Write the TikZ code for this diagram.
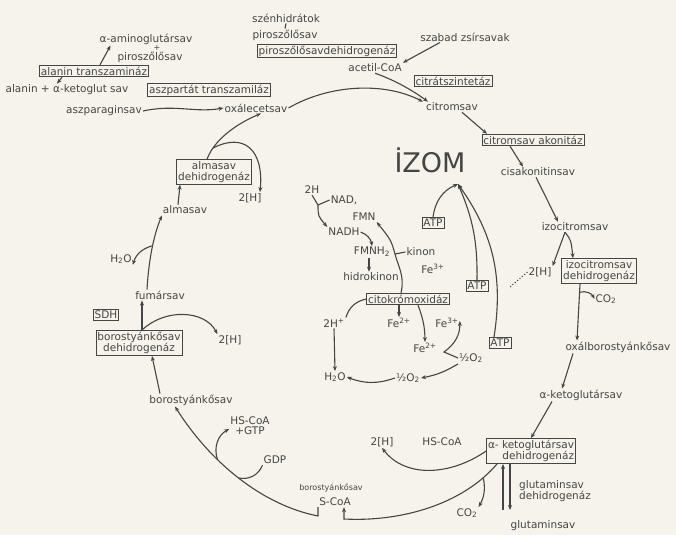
\documentclass[tikz,border=0pt]{standalone}
\usepackage{fontspec}
\setmainfont{DejaVu Sans}
\usetikzlibrary{arrows.meta}
\definecolor{ink}{HTML}{454543}
\definecolor{paper}{HTML}{F5F3EB}
\begin{document}
\begin{tikzpicture}[x=1pt, y=-1pt,
    font=\fontsize{10.5}{11.5}\selectfont,
    lbl/.style={text=ink, inner sep=1pt},
    enz/.style={draw=ink, text=ink, line width=0.8pt, inner sep=1.5pt, align=center},
    ln/.style={draw=ink, line width=1.1pt},
    arr/.style={ln, -{Stealth[length=5pt, width=4pt]}},
    tiny/.style={font=\fontsize{8}{9}\selectfont}]
    \fill[paper] (0,0) rectangle (676,535);
    \useasboundingbox (0,0) rectangle (676,535);

    % upper left: transaminations
    \node[lbl] (amglu) at (146,39) {α-aminoglutársav};
    \node[lbl, tiny] (plus) at (157,48) {+};
    \node[lbl] (piro1) at (150,57) {piroszőlősav};
    \node[enz] (alatr) at (94,71) {alanin transzamináz};
    \node[lbl] (alakg) at (67,90) {alanin + α-ketoglut sav};
    \node[enz] (asptr) at (209,90) {aszpartát transzamiláz};
    \node[lbl] (aszpar) at (104,111) {aszparaginsav};
    \node[lbl] (oxal) at (256,108) {oxálecetsav};

    % top
    \node[lbl] (szenh) at (286,18) {szénhidrátok};
    \node[lbl] (piro2) at (285,35) {piroszőlősav};
    \node[enz] (pdh) at (327,51) {piroszőlősavdehidrogenáz};
    \node[lbl] (acetil) at (375,68) {acetil-CoA};
    \node[lbl] (szabad) at (465,37) {szabad zsírsavak};
    \node[enz] (citsz) at (453,81) {citrátszintetáz};
    \node[lbl] (citr) at (452,107) {citromsav};

    % right side
    \node[enz] (akon) at (533,140) {citromsav akonitáz};
    \node[lbl] (cisak) at (538,172) {cisakonitinsav};
    \node[lbl] (izoc) at (575,227) {izocitromsav};
    \node[lbl] (ih2) at (540,272) {2[H]};
    \node[enz] (idh) at (599,271) {izocitromsav\\dehidrogenáz};
    \node[lbl] (co2a) at (606,299) {CO\textsubscript{2}};
    \node[lbl] (oxbor) at (618,347) {oxálborostyánkősav};
    \node[lbl] (akg) at (581,395) {α-ketoglutársav};
    \node[enz, align=right] (kgdh) at (531,451) {α- ketoglutársav\\dehidrogenáz};
    \node[lbl, align=left] (glud) at (555,491) {glutaminsav\\dehidrogenáz};
    \node[lbl] (glut) at (543,526) {glutaminsav};

    % bottom
    \node[lbl] (co2b) at (467,513) {CO\textsubscript{2}};
    \node[lbl] (kh2) at (382,442) {2[H]};
    \node[lbl] (khscoa) at (442,442) {HS-CoA};
    \node[lbl, tiny] (sucoa1) at (331,488) {borostyánkősav};
    \node[lbl] (sucoa) at (335,502) {S-CoA};
    \node[lbl] (gdp) at (275,460) {GDP};
    \node[lbl, align=center, font=\fontsize{10.5}{10}\selectfont] (hsgtp) at (250,426) {HS-CoA\\+GTP};
    \node[lbl] (borost) at (191,400) {borostyánkősav};

    % left side
    \node[enz] (sdhbox) at (139,343) {borostyánkősav\\dehidrogenáz};
    \node[enz] (sdh) at (106,315) {SDH};
    \node[lbl] (sh2) at (230,340) {2[H]};
    \node[lbl] (fumar) at (160,295) {fumársav};
    \node[lbl] (h2o) at (121,259) {H\textsubscript{2}O};
    \node[lbl] (almas) at (185,210) {almasav};
    \node[enz] (mdh) at (214,172) {almasav\\dehidrogenáz};
    \node[lbl] (mh2) at (250,198) {2[H]};

    % centre: respiratory chain
    \node[lbl, font=\fontsize{27}{30}\selectfont] (izom) at (430,160) {İZOM};
    \node[lbl] (n2h) at (312,190) {2H};
    \node[lbl] (nad) at (344,200) {NAD,};
    \node[lbl] (fmn) at (364,217) {FMN};
    \node[lbl] (nadh) at (344,232) {NADH};
    \node[lbl] (fmnh) at (372,252) {FMNH\textsubscript{2}};
    \node[lbl] (kinon) at (421,252) {kinon};
    \node[lbl] (fe3a) at (433,269) {Fe\textsuperscript{3+}};
    \node[lbl] (hidrok) at (371,277) {hidrokinon};
    \node[enz] (cyto) at (408,299) {citokrómoxidáz};
    \node[lbl] (h2p) at (334,323) {2H\textsuperscript{+}};
    \node[lbl] (fe2a) at (399,323) {Fe\textsuperscript{2+}};
    \node[lbl] (fe3b) at (447,323) {Fe\textsuperscript{3+}};
    \node[lbl] (fe2b) at (425,348) {Fe\textsuperscript{2+}};
    \node[lbl] (o2a) at (471,358) {½O\textsubscript{2}};
    \node[lbl] (o2b) at (408,378) {½O\textsubscript{2}};
    \node[lbl] (h2ob) at (335,377) {H\textsubscript{2}O};
    \node[enz] (atp1) at (433,223) {ATP};
    \node[enz] (atp2) at (477,286) {ATP};
    \node[enz] (atp3) at (500,343) {ATP};

    \coordinate (izomin) at (458,184);
    \coordinate (dotend) at (510,287);
    \coordinate (gld1) at (503,510);
    \coordinate (gld2) at (510,510);
    \coordinate (sck) at (344,519);
    \coordinate (sca) at (318,516);
    \coordinate (yj) at (318,205);
    \coordinate (kj) at (395,254);
    \coordinate (sv) at (444,352);

    % connectors, upper left
    \draw[arr] ([xshift=6pt]alatr.north) -- ([xshift=12pt]amglu.south west);
    \draw[arr] ([xshift=-32pt]alatr.south) -- ([xshift=-10pt]alakg.north);
    \draw[arr] (aszpar.east) .. controls (175,104) and (195,113) .. (oxal.west);
    \draw[arr] (oxal.east) .. controls (330,84) and (385,82) .. ([xshift=-2pt]citr.north west);

    % top
    \draw[ln] (szenh.south) -- (piro2.north);
    \draw[arr] ([xshift=-25pt]szabad.south) -- (acetil.north east);
    \draw[arr] (acetil.south) .. controls (395,80) and (415,92) .. ([xshift=3pt]citr.north west);

    % right side
    \draw[arr] ([xshift=10pt]citr.south) -- ([xshift=-46pt]akon.north);
    \draw[arr] ([xshift=-23pt]akon.south) -- ([xshift=-15pt]cisak.north);
    \draw[arr] ([xshift=-2pt]cisak.south) -- ([xshift=-17pt]izoc.north);
    \draw[arr] ([xshift=-10pt]izoc.south) .. controls (571,240) .. ([xshift=-26pt]idh.north);
    \draw[arr] ([xshift=-10pt]izoc.south) -- (ih2.north east);
    \draw[ln, dotted] (ih2.west) -- (dotend);
    \draw[arr] ([xshift=-19pt]idh.south) -- coordinate[pos=0.15] (idhc) ([xshift=-41pt]oxbor.north);
    \draw[arr] (idhc) to[bend left=40] (co2a.west);
    \draw[arr] ([xshift=-45pt]oxbor.south) -- ([xshift=-19pt]akg.north);
    \draw[arr] ([xshift=-29pt]akg.south) -- (kgdh.north);
    \draw[arr] (gld1) -- (gld1 |- kgdh.south);
    \draw[arr] (gld2 |- kgdh.south) -- (gld2);

    % bottom
    \draw[arr] ([xshift=-34pt]kgdh.south) .. controls (462,505) and (400,522) .. coordinate[pos=0.12] (kgc) (sck) -- (sck |- sucoa.south);
    \draw[arr] (kgc) to[bend left=20] (co2b.north east);
    \draw[arr] (kgdh.west) .. controls (450,476) and (405,478) .. (kh2.south);
    \draw[arr] ([xshift=-17pt]sucoa.south) -- (sca) .. controls (262,505) and (210,462) .. coordinate[pos=0.5] (gdpj) coordinate[pos=0.65] (gtpj) ([xshift=-16pt]borost.south);
    \draw[ln] (gdp.south west) to[bend left=40] (gdpj);
    \draw[arr] (gtpj) to[bend left=40] ([yshift=-3pt]hsgtp.west);

    % left side
    \draw[arr] ([xshift=-31pt]borost.north) -- ([xshift=13pt]sdhbox.south);
    \draw[arr] ([xshift=3pt]sdhbox.north) -- ([xshift=-18pt]fumar.south);
    \draw[arr] ([xshift=3pt]sdhbox.north) .. controls (165,308) and (205,310) .. (sh2.north west);
    \draw[arr] ([xshift=-13pt]fumar.north) .. controls (149,255) and (155,232) .. coordinate[pos=0.5] (h2oj) ([xshift=-23pt]almas.south);
    \draw[arr] (h2oj) to[bend right=30] (h2o.south east);
    \draw[arr] ([xshift=-7pt]almas.north) -- ([xshift=-34pt]mdh.south);
    \draw[arr] ([xshift=-7pt]mdh.north) .. controls (214,140) and (236,124) .. coordinate[pos=0.2] (mdhj) ([xshift=5pt]oxal.south);
    \draw[arr] (mdhj) .. controls (244,132) and (264,150) .. ([xshift=10pt]mh2.north);

    % centre
    \draw[ln] (n2h.south) -- (yj);
    \draw[ln] (nad.west) -- (yj);
    \draw[arr] (yj) .. controls (318,216) .. (nadh.north west);
    \draw[arr] (nadh.east) to[bend left=30] (fmnh.north);
    \draw[arr] (kj) .. controls (391,240) .. (fmn.south east);
    \draw[ln] (kinon.west) -- (kj);
    \draw[ln] (kj) .. controls (398,266) and (405,276) .. ([xshift=-7pt]cyto.north);
    \draw[arr] ([xshift=-3pt]fmnh.south) -- ([xshift=-2pt]hidrok.north);
    \draw[arr] ([xshift=-9pt]cyto.south) -- (fe2a.north);
    \draw[ln] (cyto.west) to[bend right=30] (h2p.north east);
    \draw[arr] (h2p.south) -- (h2ob.north);
    \draw[arr] ([xshift=10pt]cyto.south) to[bend left=10] (fe2b.north);
    \draw[arr] (o2a.west) -- (sv) .. controls (455,344) and (460,335) .. ([yshift=2pt]fe3b.east);
    \draw[arr] (o2a.south west) to[bend left=10] (o2b.east);
    \draw[arr] (o2b.west) to[bend left=20] (h2ob.east);
    \draw[arr] (atp1.north) to[bend left=30] (izomin);
    \draw[arr] (atp2.north) to[bend right=12] (izomin);
    \draw[arr] ([xshift=-6pt]atp3.north) to[bend right=22] (izomin);
\end{tikzpicture}
\end{document}
